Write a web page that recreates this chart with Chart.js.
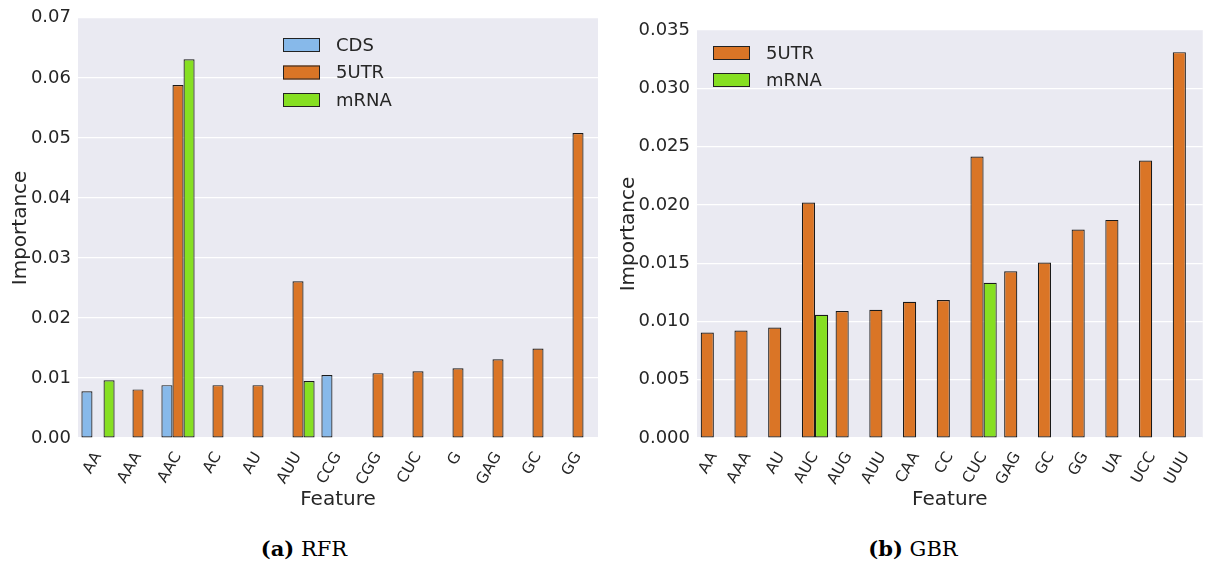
<!DOCTYPE html>
<html>
<head>
<meta charset="utf-8">
<script src="https://cdn.jsdelivr.net/npm/chart.js@4.4.0/dist/chart.umd.min.js"></script>
<style>
    body { margin: 0; background: #fff; width: 1205px; height: 565px; position: relative; overflow: hidden; }
    .panel { position: absolute; top: 0; height: 520px; }
    .caption { position: absolute; top: 536px; font-family: 'DejaVu Serif', 'Liberation Serif', serif; font-size: 21px; color: #000; transform: translateX(-50%); white-space: nowrap; }
    .caption b { font-weight: bold; }
</style>
</head>
<body>
<div class="panel" style="left:0; width:600px;"><canvas id="rfrChart"></canvas></div>
<div class="panel" style="left:600px; width:605px;"><canvas id="gbrChart"></canvas></div>
<div class="caption" style="left:304px;"><b>(a)</b> RFR</div>
<div class="caption" style="left:913px;"><b>(b)</b> GBR</div>

<script>
// RFR panel data
const rfrFeatures = ['AA', 'AAA', 'AAC', 'AC', 'AU', 'AUU', 'CCG', 'CGG', 'CUC', 'G', 'GAG', 'GC', 'GG'];
const rfrCDS  = [0.0078, null, 0.0088, null, null, null, 0.0105, null, null, null, null, null, null];
const rfrUTR  = [null, 0.0081, 0.0588, 0.0088, 0.0088, 0.0261, null, 0.0108, 0.0111, 0.0116, 0.0131, 0.0149, 0.0508];
const rfrMRNA = [0.0096, null, 0.0631, null, null, 0.0095, null, null, null, null, null, null, null];

// GBR panel data
const gbrFeatures = ['AA', 'AAA', 'AU', 'AUC', 'AUG', 'AUU', 'CAA', 'CC', 'CUC', 'GAG', 'GC', 'GG', 'UA', 'UCC', 'UUU'];
const gbrUTR  = [0.00905, 0.00922, 0.00948, 0.0202, 0.0109, 0.0110, 0.01168, 0.01183, 0.02414, 0.01431, 0.01505, 0.01788, 0.01871, 0.0238, 0.0331];
const gbrMRNA = [null, null, null, 0.01057, null, null, null, null, 0.01331, null, null, null, null, null, null];

const rfrTicks = [0, 0.01, 0.02, 0.03, 0.04, 0.05, 0.06, 0.07];
const gbrTicks = [0, 0.005, 0.01, 0.015, 0.02, 0.025, 0.03, 0.035];

const colors = {
    CDS: '#87b9ea',
    '5UTR': '#da7526',
    mRNA: '#86df22'
};

const textColor = '#262626';
const fontFamily = "'DejaVu Sans', sans-serif";

// draws the plot background behind the bars
const bgPlugin = {
    id: 'plotBg',
    beforeDraw(chart) {
        const { ctx, chartArea } = chart;
        ctx.save();
        ctx.fillStyle = '#eaeaf2';
        ctx.fillRect(chartArea.left, chartArea.top, chartArea.right - chartArea.left, chartArea.bottom - chartArea.top);
        ctx.restore();
    }
};

// legend drawn inside the plot area, like matplotlib's
const innerLegend = {
    id: 'innerLegend',
    afterDatasetsDraw(chart, args, opts) {
        const ctx = chart.ctx;
        ctx.save();
        ctx.font = '18px ' + fontFamily;
        ctx.textBaseline = 'middle';
        chart.data.datasets.forEach((ds, i) => {
            const y = opts.y + i * opts.rowGap;
            ctx.fillStyle = ds.backgroundColor;
            ctx.fillRect(opts.x, y - 7, 37, 14);
            ctx.strokeStyle = '#222';
            ctx.lineWidth = 1;
            ctx.strokeRect(opts.x + 0.5, y - 6.5, 36, 13);
            ctx.fillStyle = textColor;
            ctx.fillText(ds.label, opts.x + 53, y + 1);
        });
        ctx.restore();
    }
};

function makeDataset(label, data) {
    return {
        label: label,
        data: data,
        backgroundColor: colors[label],
        borderColor: '#1a1a1a',
        borderWidth: 1.2,
        borderSkipped: false,
        barPercentage: 1.0,
        categoryPercentage: 0.8 // set per chart below
    };
}

function buildChart(canvasId, labels, datasets, opts) {
    datasets.forEach(ds => ds.categoryPercentage = opts.catPct);
    return new Chart(document.getElementById(canvasId), {
        type: 'bar',
        data: { labels: labels, datasets: datasets },
        plugins: [bgPlugin, innerLegend],
        options: {
            responsive: true,
            maintainAspectRatio: false,
            animation: false,
            layout: { padding: { top: opts.padTop, right: opts.padRight, left: 0, bottom: 0 } },
            plugins: {
                legend: { display: false },
                tooltip: { enabled: false },
                innerLegend: opts.legend
            },
            scales: {
                x: {
                    grid: { display: false },
                    border: { display: false },
                    ticks: {
                        color: textColor,
                        font: { family: 'DejaVu Sans', size: 15.5 },
                        minRotation: 60,
                        maxRotation: 60,
                        autoSkip: false,
                        padding: 3
                    },
                    title: {
                        display: true,
                        text: 'Feature',
                        color: textColor,
                        font: { family: 'DejaVu Sans', size: 20 },
                        padding: { top: 0, bottom: 8 }
                    },
                    afterFit(scale) { scale.height = opts.xHeight; }
                },
                y: {
                    min: 0,
                    max: opts.yMax,
                    grid: { color: '#ffffff', lineWidth: 1.2, drawTicks: false },
                    border: { display: false },
                    afterBuildTicks(scale) { scale.ticks = opts.yTicks.map(v => ({ value: v })); },
                    ticks: {
                        color: textColor,
                        font: { family: 'DejaVu Sans', size: 18 },
                        padding: 7,
                        callback: v => Number(v).toFixed(opts.decimals)
                    },
                    title: {
                        display: true,
                        text: 'Importance',
                        color: textColor,
                        font: { family: 'DejaVu Sans', size: 20 },
                        padding: { top: opts.titlePad, bottom: 0 }
                    },
                    afterFit(scale) { scale.width = opts.yWidth; }
                }
            }
        }
    });
}

buildChart('rfrChart', rfrFeatures, [
    makeDataset('CDS', rfrCDS),
    makeDataset('5UTR', rfrUTR),
    makeDataset('mRNA', rfrMRNA)
], {
    catPct: 0.83, padTop: 15, padRight: 2, xHeight: 82, yWidth: 78, titlePad: 9,
    yMax: 0.07, yTicks: rfrTicks, decimals: 2,
    legend: { x: 283, y: 45, rowGap: 27.5 }
});

buildChart('gbrChart', gbrFeatures, [
    makeDataset('5UTR', gbrUTR),
    makeDataset('mRNA', gbrMRNA)
], {
    catPct: 0.78, padTop: 30, padRight: 0, xHeight: 82, yWidth: 97, titlePad: 17,
    yMax: 0.035, yTicks: gbrTicks, decimals: 3,
    legend: { x: 113, y: 53, rowGap: 27 }
});
</script>
</body>
</html>
